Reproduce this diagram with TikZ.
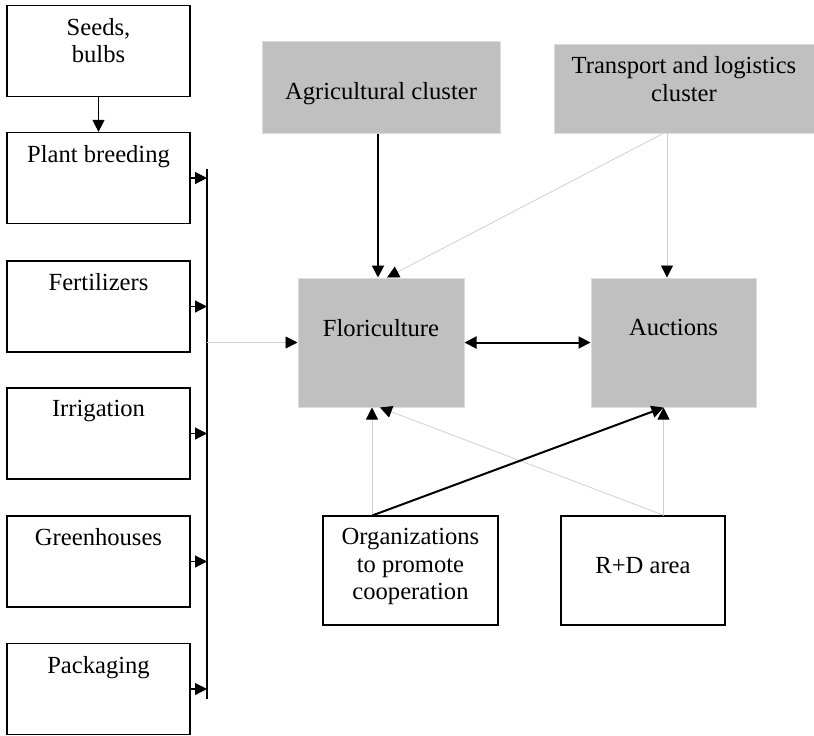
\documentclass[tikz,border=0pt]{standalone}
\usepackage{fontspec}
\setmainfont{Liberation Serif}
\usetikzlibrary{arrows.meta}
\definecolor{boxgray}{RGB}{192,192,192}
\definecolor{edgegray}{RGB}{220,220,220}
\definecolor{linkgray}{RGB}{208,208,208}
\tikzset{
  plainbox/.style={draw, line width=0.6pt, inner sep=0pt},
  leftbox/.style={plainbox, minimum width=91.5pt, minimum height=45.5pt},
  graybox/.style={fill=boxgray, draw=edgegray, line width=0.5pt, inner sep=0pt},
  toplab/.style={anchor=north, yshift=-3pt, align=center},
  lowlab/.style={anchor=north, yshift=-17.5pt, align=center},
  faint/.style={draw=linkgray, line width=0.4pt},
  bold/.style={line width=1pt},
}

\begin{document}
\begin{tikzpicture}[x=0.5pt, y=-0.5pt, >={Triangle[length=6pt,width=6pt,color=black]},
  font=\fontsize{12.3}{13.8}\selectfont]
			%%%%% START %%%%%
			\useasboundingbox (0,0) rectangle (814,735);
			
			% suppliers column
			\node[leftbox, label={[toplab]north:{Seeds,\\bulbs}}] (seeds) at (98.5, 51) {};
			\node[leftbox, label={[toplab]north:Plant breeding}] (breeding) at (98.5, 178) {};
			\node[leftbox, label={[toplab]north:Fertilizers}] (fert) at (98.5, 306.5) {};
			\node[leftbox, label={[toplab]north:Irrigation}] (irrig) at (98.5, 433.5) {};
			\node[leftbox, label={[toplab]north:Greenhouses}] (green) at (98.5, 561.5) {};
			\node[leftbox, label={[toplab]north:Packaging}] (pack) at (98.5, 689) {};
			
			\coordinate (bartop) at (207, 169);
			\coordinate (barbot) at (207, 699);
			\draw[line width=0.6pt] (bartop) -- (barbot);
			
			\draw[line width=0.6pt, ->] (seeds) -- (breeding);
			\draw[line width=0.6pt, ->] (breeding.east) -- (breeding.east -| bartop);
			\draw[line width=0.6pt, ->] (fert.east) -- (fert.east -| bartop);
			\draw[line width=0.6pt, ->] (irrig.east) -- (irrig.east -| bartop);
			\draw[line width=0.6pt, ->] (green.east) -- (green.east -| bartop);
			\draw[line width=0.6pt, ->] (pack.east) -- (pack.east -| bartop);
			
			% clusters
			\node[graybox, minimum width=119pt, minimum height=46pt,
			      label={[lowlab]north:Agricultural cluster}] (agri) at (381, 87) {};
			\node[graybox, minimum width=130pt, minimum height=44.5pt,
			      label={[toplab]north:{Transport and logistics\\cluster}}] (trans) at (684, 88.5) {};
			
			\node[graybox, minimum width=83pt, minimum height=64.5pt,
			      label={[lowlab]north:Floriculture}] (flori) at (381, 342.5) {};
			\node[graybox, minimum width=82.5pt, minimum height=64.5pt,
			      label={[lowlab]north:Auctions}] (auct) at (673.5, 342.5) {};
			
			\node[plainbox, minimum width=87.5pt, minimum height=54.5pt,
			      label={[toplab]north:{Organizations\\to promote\\cooperation}}] (org) at (410.5, 570.5) {};
			\node[plainbox, minimum width=82pt, minimum height=54.5pt,
			      label={[lowlab]north:R+D area}] (rd) at (643, 570.5) {};
			
			% links
			\draw[faint, ->] (flori.west -| bartop) -- (flori.west);
			\draw[faint, ->] ([xshift=-10.5pt]trans.south) -- ([xshift=3pt]flori.north);
			\draw[bold, ->] ([xshift=-1.5pt]agri.south) -- ([xshift=-1.5pt]flori.north);
			\draw[faint, ->] ([xshift=-3.25pt]auct.north |- trans.south) -- ([xshift=-3.25pt]auct.north);
			\draw[bold, <->] (flori) -- (auct);
			
			\draw[faint, ->] ([xshift=-4.5pt]flori.south |- org.north) -- ([xshift=-4.5pt]flori.south);
			\draw[faint, ->] ([xshift=10.5pt]rd.north) -- ([xshift=-0.5pt]flori.south);
			\draw[faint, ->] ([xshift=-5pt]auct.south |- rd.north) -- ([xshift=-5pt]auct.south);
			\draw[bold, ->] ([xshift=-19pt]org.north) -- ([xshift=-5pt]auct.south);
			
			%%%%% END %%%%%
\end{tikzpicture}
\end{document}
